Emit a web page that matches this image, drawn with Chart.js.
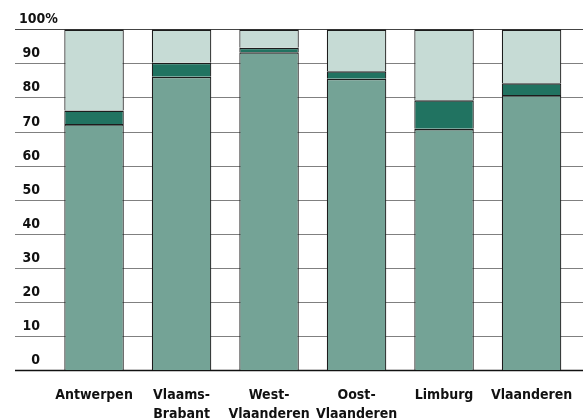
<!DOCTYPE html>
<html>
<head>
<meta charset="utf-8">
<script src="https://cdn.jsdelivr.net/npm/chart.js@4"></script>
<style>
  html, body { margin: 0; padding: 0; background: #fff; }
  #wrap { width: 583px; height: 418px; }
</style>
</head>
<body>
<div id="wrap"><canvas id="chart" width="583" height="418"></canvas></div>
<script>
const regions = [['Antwerpen'], ['Vlaams-', 'Brabant'], ['West-', 'Vlaanderen'], ['Oost-', 'Vlaanderen'], ['Limburg'], ['Vlaanderen']];
const share1 = [72.2, 86.1, 93.3, 85.5, 70.8, 80.7];
const share2 = [4.0, 4.1, 1.3, 2.2, 8.4, 3.5];
const share3 = [23.8, 9.8, 5.4, 12.3, 20.8, 15.8];
const yTicks = [0, 10, 20, 30, 40, 50, 60, 70, 80, 90, 100];

const FONT = '"Liberation Sans Narrow", "DejaVu Sans Condensed", "Arial Narrow", sans-serif';

// horizontal rules across the whole width, behind the bars,
// with the value written just above each rule
const rules = {
  id: 'rules',
  beforeDatasetsDraw(chart) {
    const { ctx, scales: { y } } = chart;
    ctx.save();
    yTicks.forEach(v => {
      const py = Math.round(y.getPixelForValue(v)) + 0.5;
      ctx.beginPath();
      ctx.moveTo(15, py);
      ctx.lineTo(chart.width, py);
      ctx.lineWidth = v === 0 ? 1.6 : 1.2;
      ctx.strokeStyle = v === 0 ? '#111' : (v === 100 ? '#444' : '#808080');
      ctx.stroke();

      ctx.fillStyle = '#111';
      ctx.font = 'bold 14px ' + FONT;
      ctx.textBaseline = 'alphabetic';
      if (v === 100) {
        ctx.textAlign = 'left';
        ctx.fillText('100%', 19, py - 7);
      } else {
        ctx.textAlign = 'right';
        ctx.fillText(String(v), 40, py - 7);
      }
    });
    ctx.restore();
  }
};

const seg = (label, data, color) => ({
  label, data,
  backgroundColor: color,
  borderColor: '#1c1c1c',
  borderWidth: { top: 1.6, bottom: 0, left: 1.2, right: 1.2 },
  borderSkipped: false,
  categoryPercentage: 1,
  barPercentage: 0.68
});

new Chart(document.getElementById('chart'), {
  type: 'bar',
  data: {
    labels: regions,
    datasets: [
      seg('aandeel 1', share1, '#74a396'),
      seg('aandeel 2', share2, '#217361'),
      seg('aandeel 3', share3, '#c6dbd5')
    ]
  },
  options: {
    responsive: false,
    animation: false,
    layout: { padding: { left: 0, right: 7.7, top: 29.3, bottom: 0 } },
    plugins: { legend: { display: false }, tooltip: { enabled: false } },
    scales: {
      x: {
        stacked: true,
        grid: { display: false },
        border: { display: false },
        ticks: {
          color: '#111',
          padding: 8,
          maxRotation: 0,
          autoSkip: false,
          font: { family: FONT, size: 14, weight: 'bold', lineHeight: 1.32 }
        },
        afterFit(scale) { scale.height = 47.7; }
      },
      y: {
        stacked: true,
        min: 0,
        max: 100,
        grid: { display: false },
        border: { display: false },
        afterBuildTicks(scale) { scale.ticks = yTicks.map(v => ({ value: v })); },
        ticks: { display: false },
        afterFit(scale) { scale.width = 50.3; }
      }
    }
  },
  plugins: [rules]
});
</script>
</body>
</html>
